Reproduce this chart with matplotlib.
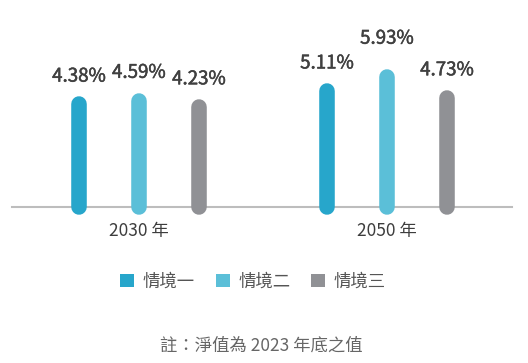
import matplotlib
matplotlib.use("Agg")
import matplotlib.pyplot as plt
from matplotlib.patches import Patch
import matplotlib.patheffects as pe

plt.rcParams['font.family'] = ['Noto Sans CJK TC', 'DejaVu Sans']

years = ["2030 年", "2050 年"]
scenarios = ["情境一", "情境二", "情境三"]
values = {
    "情境一": [4.38, 5.11],
    "情境二": [4.59, 5.93],
    "情境三": [4.23, 4.73],
}
colors = ["#27a6cb", "#5bbfd8", "#909195"]
note = "註：淨值為 2023 年底之值"

W, H = 528, 363
fig = plt.figure(figsize=(W / 100, H / 100), dpi=100)
base_px = 207
top_px = 20
ax = fig.add_axes([12 / W, (H - base_px) / H, 500 / W, (base_px - top_px) / H])

base = -1.32
scale = 18.0  # px per unit
ax.set_ylim(base, base + (base_px - top_px) / scale)
ax.set_xlim(-127 / 248, 373 / 248)

offsets = [-60 / 248, 0, 60 / 248]
label_pad = {(1, 1): 20}
for si, s in enumerate(scenarios):
    for gi, v in enumerate(values[s]):
        x = gi + offsets[si]
        ax.plot([x, x], [base, v], color=colors[si], lw=11.2,
                solid_capstyle='round', clip_on=False, zorder=3)
        pad = label_pad.get((gi, si), 10) + 7.8
        ax.annotate(f"{v:.2f}%", (x, v), xytext=(0, pad * 0.72),
                    textcoords='offset points', ha='center', va='bottom',
                    fontsize=13.5, color='#404040',
                    path_effects=[pe.withStroke(linewidth=0.35, foreground='#404040')])

for sp in ['top', 'right', 'left']:
    ax.spines[sp].set_visible(False)
ax.spines['bottom'].set_color('#bdbdbd')
ax.spines['bottom'].set_linewidth(1.5)
ax.spines['bottom'].set_zorder(1)
ax.set_yticks([])
ax.set_xticks([0, 1])
ax.set_xticklabels(years, fontsize=12.5, color='#3d3d3d')
ax.tick_params(axis='x', length=0, pad=11)

handles = [Patch(facecolor=c, edgecolor='none') for c in colors]
fig.legend(handles, scenarios, loc='center', bbox_to_anchor=(253 / W, 1 - 281.7 / H),
           ncol=3, frameon=False, fontsize=12.5, handlelength=0.8, handleheight=0.8,
           handletextpad=0.5, columnspacing=1.2, labelcolor='#555555')

fig.text(261 / W, 1 - 346 / H, note, ha='center', va='center', fontsize=12.5, color='#666666')

fig.savefig("out.png", dpi=100)
